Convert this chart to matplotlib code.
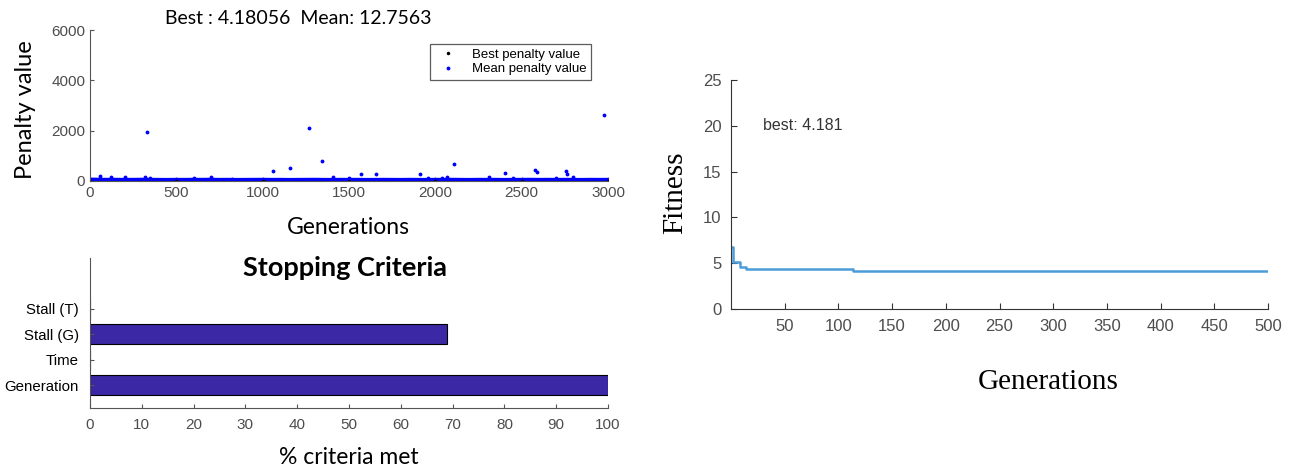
import numpy as np
import matplotlib
matplotlib.use("Agg")
import matplotlib.pyplot as plt

plt.rcParams["font.family"] = ["Liberation Sans", "DejaVu Sans"]

# penalty plot (GA run, 3000 generations)
base_gens = [0, 50, 100, 150, 200, 250, 300, 350, 400, 450, 500, 550, 600, 650, 700, 750,
             800, 850, 900, 950, 1000, 1050, 1100, 1150, 1200, 1250, 1300, 1350, 1400, 1450,
             1500, 1550, 1600, 1650, 1700, 1750, 1800, 1850, 1900, 1950, 2000, 2050, 2100,
             2150, 2200, 2250, 2300, 2350, 2400, 2450, 2500, 2550, 2600, 2650, 2700, 2750,
             2800, 2850, 2900, 2950, 3000]
base_vals = [40, 35, 30, 32, 28, 30, 34, 30, 28, 26, 30, 28, 32, 30, 34, 28,
             30, 26, 28, 30, 32, 28, 30, 26, 28, 30, 32, 28, 26, 30,
             28, 30, 26, 28, 30, 28, 26, 30, 28, 26, 30, 28, 32,
             28, 26, 30, 28, 30, 26, 28, 30, 32, 28, 30, 28, 30,
             28, 26, 30, 28, 30]
spike_gens = [60, 120, 200, 320, 330, 345, 600, 700, 820, 1060, 1160, 1270, 1345, 1410,
              1500, 1570, 1655, 1910, 1960, 2040, 2070, 2110, 2310, 2405, 2450, 2575,
              2590, 2700, 2755, 2760, 2800, 2975]
spike_vals = [190, 150, 140, 160, 1950, 120, 110, 150, 90, 400, 520, 2110, 800, 150,
              120, 260, 290, 290, 130, 120, 150, 670, 140, 330, 120, 420,
              360, 130, 380, 280, 140, 2610]
best_gens = [0, 500, 1000, 1500, 2000, 2500, 3000]
best_vals = [6.5, 4.4, 4.3, 4.2, 4.2, 4.18, 4.18]

# stopping criteria
criteria = ["Generation", "Time", "Stall (G)", "Stall (T)"]
criteria_met = [100, 0, 69, 0]

# fitness curve
fit_gen = [1, 2, 7, 8, 13, 14, 113, 114, 500]
fit_val = [6.8, 5.1, 5.1, 4.6, 4.6, 4.35, 4.35, 4.2, 4.2]

W, H = 1294, 470
fig = plt.figure(figsize=(W / 100, H / 100), dpi=100)

def box(x0, y0, x1, y1):
    return [x0 / W, 1 - y1 / H, (x1 - x0) / W, (y1 - y0) / H]

tick_col = "#4d4d4d"

# ---- top left: penalty values
ax1 = fig.add_axes(box(90, 30, 608, 181))
ax1.plot(base_gens, base_vals, color="blue", lw=3.5, solid_capstyle="butt")
ax1.plot(base_gens, base_vals, ".", color="blue", ms=4)
ax1.plot(best_gens, best_vals, ".", color="black", ms=3, label="Best penalty value")
ax1.plot(spike_gens, spike_vals, ".", color="blue", ms=3.5, label="Mean penalty value")
ax1.set_xlim(0, 3000)
ax1.set_ylim(0, 6000)
ax1.set_xticks(range(0, 3001, 500))
ax1.set_yticks([0, 2000, 4000, 6000])
ax1.spines[["top", "right"]].set_visible(False)
ax1.spines[["left", "bottom"]].set_color("#555555")
ax1.tick_params(direction="in", labelsize=11, labelcolor=tick_col, colors="#555555", length=3)
leg = ax1.legend(loc="upper right", bbox_to_anchor=(0.98, 0.95), frameon=True,
                 fancybox=False, edgecolor="#333333", handlelength=2.0, borderpad=0.35,
                 labelspacing=0.15, prop={"size": 9.5})
leg.get_frame().set_linewidth(0.9)
fig.text(298 / W, 1 - 18 / H, "Best : 4.18056  Mean: 12.7563", ha="center", va="center",
         fontsize=14, family="Lato")
fig.text(25 / W, 1 - 110 / H, "Penalty value", rotation=90, ha="center", va="center",
         fontsize=17, family="Lato")
fig.text(348 / W, 1 - 227 / H, "Generations", ha="center", va="center", fontsize=16.5,
         family="Lato")

# ---- bottom left: stopping criteria
ax2 = fig.add_axes(box(90, 258, 608, 408))
ypos = np.arange(1, len(criteria) + 1)
ax2.barh(ypos, criteria_met, height=0.8, color="#3b28a5", edgecolor="black", linewidth=0.8)
ax2.set_xlim(0, 100)
ax2.set_ylim(0.1, 6)
ax2.set_xticks(range(0, 101, 10))
ax2.set_yticks(ypos)
ax2.set_yticklabels(criteria, fontsize=10.8)
ax2.spines[["top", "right"]].set_visible(False)
ax2.spines[["left", "bottom"]].set_color("#555555")
ax2.tick_params(direction="in", colors="#555555", length=3)
ax2.tick_params(axis="x", labelsize=11, labelcolor=tick_col, pad=7)
ax2.tick_params(axis="y", labelcolor="black", pad=8)
fig.text(345 / W, 1 - 268 / H, "Stopping Criteria", ha="center", va="center",
         fontsize=19.5, weight="bold", family="Lato")
fig.text(349 / W, 1 - 457 / H, "% criteria met", ha="center", va="center",
         fontsize=16.5, family="Lato")

# ---- right: fitness vs generations
ax3 = fig.add_axes(box(731, 80, 1268, 309))
ax3.step(fit_gen, fit_val, where="post", color="#4b9cd8", lw=1.8)
ax3.set_xlim(0, 500)
ax3.set_ylim(0, 25)
ax3.set_xticks(range(50, 501, 50))
ax3.set_yticks(range(0, 26, 5))
ax3.spines[["top", "right"]].set_visible(False)
ax3.spines[["left", "bottom"]].set_color("#333333")
ax3.tick_params(direction="in", labelsize=12, labelcolor=tick_col, colors="#333333",
                length=4, pad=7)
ax3.text(30, 20, "best: 4.181", fontsize=11.5, color="#333333", va="center")
fig.text(675 / W, 1 - 193 / H, "Fitness", rotation=90, ha="center", va="center",
         fontsize=21, family="Liberation Serif")
fig.text(1048 / W, 1 - 382 / H, "Generations", ha="center", va="center",
         fontsize=21, family="Liberation Serif")

fig.savefig("out.png", dpi=100)
